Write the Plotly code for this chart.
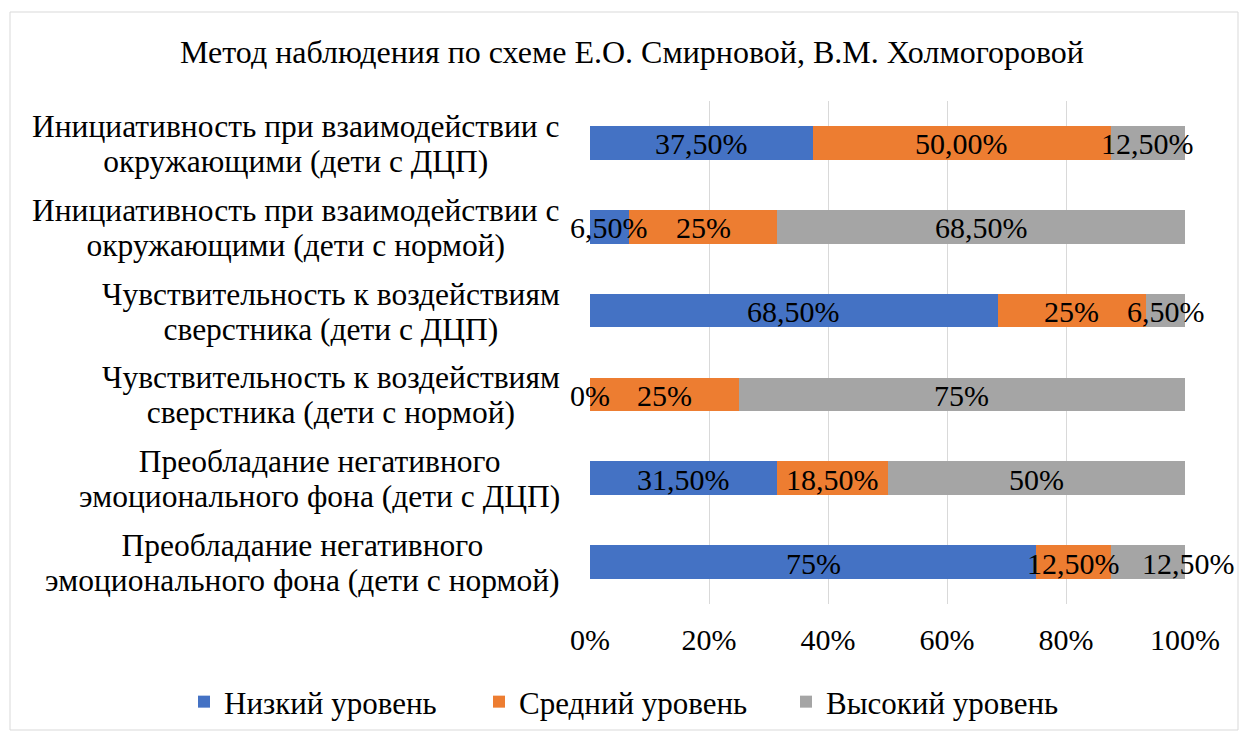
import plotly.graph_objects as go

title = "Метод наблюдения по схеме Е.О. Смирновой, В.М. Холмогоровой"
categories = [
    "Инициативность при взаимодействии с<br>окружающими (дети с ДЦП)",
    "Инициативность при взаимодействии с<br>окружающими (дети с нормой)",
    "Чувствительность к воздействиям<br>сверстника (дети с ДЦП)",
    "Чувствительность к воздействиям<br>сверстника (дети с нормой)",
    "Преобладание негативного<br>эмоционального фона (дети с ДЦП)",
    "Преобладание негативного<br>эмоционального фона (дети с нормой)",
]
series_names = ["Низкий уровень", "Средний уровень", "Высокий уровень"]
low = [0.375, 0.065, 0.685, 0.0, 0.315, 0.75]
mid = [0.50, 0.25, 0.25, 0.25, 0.185, 0.125]
high = [0.125, 0.685, 0.065, 0.75, 0.50, 0.125]
low_text = ["37,50%", "6,50%", "68,50%", "0%", "31,50%", "75%"]
mid_text = ["50,00%", "25%", "25%", "25%", "18,50%", "12,50%"]
high_text = ["12,50%", "68,50%", "6,50%", "75%", "50%", "12,50%"]
colors = ["#4472C4", "#ED7D31", "#A5A5A5"]
x_ticks = [0, 0.2, 0.4, 0.6, 0.8, 1.0]
x_tick_text = ["0%", "20%", "40%", "60%", "80%", "100%"]

FONT = "Liberation Serif, Times New Roman, serif"
FS_TITLE = 32
FS_CAT = 31.5
FS_CAT_LINE = 27   # controls the line spacing of category labels
FS_LABEL = 30
FS_TICK = 30
FS_LEG = 31

W, H = 1243, 735
L, R, T, B = 590, 58, 101, 131
PW = W - L - R
PH = H - T - B

# label nudges (pixels) the original applied to avoid collisions
label_nudge = {(5, 2): 41}

fig = go.Figure()
legend_ids = ["legend", "legend2", "legend3"]
series_vals = [low, mid, high]
series_text = [low_text, mid_text, high_text]
for name, vals, col, lid in zip(series_names, series_vals, colors, legend_ids):
    fig.add_trace(go.Bar(
        y=categories, x=vals, name=name, orientation="h",
        marker=dict(color=col, line=dict(width=0)),
        legend=lid, hoverinfo="x+y",
    ))

# data labels centred in each segment (positions derived from the data)
for i, c in enumerate(categories):
    start = 0.0
    for k, (vals, txt) in enumerate(zip(series_vals, series_text)):
        v = vals[i]
        fig.add_annotation(
            x=start + v / 2, xref="x", y=c, yref="y", text=txt[i],
            showarrow=False, xanchor="center", yanchor="middle", yshift=-1,
            xshift=label_nudge.get((i, k), 0),
            font=dict(family=FONT, size=FS_LABEL, color="black"),
        )
        start += v

# category labels: block right-aligned to the axis, lines centred in block
for c in categories:
    lines = c.split("<br>")
    txt = "<br>".join(
        "<span style='font-size:%spx'>%s</span>" % (FS_CAT, ln) for ln in lines)
    fig.add_annotation(
        x=0, xref="paper", y=c, yref="y", text=txt, showarrow=False,
        xanchor="right", yanchor="middle", align="center",
        xshift=-28, yshift=-1,
        font=dict(family=FONT, size=FS_CAT_LINE, color="black"),
    )

# outer chart border
fig.add_shape(type="rect", xref="paper", yref="paper",
              x0=(10 - L) / PW, x1=(1238 - L) / PW,
              y0=((H - B) - 730) / PH, y1=((H - B) - 12) / PH,
              line=dict(color="#D9D9D9", width=1), fillcolor="rgba(0,0,0,0)",
              layer="below")

leg_x = [184, 479, 786]
leg_common = dict(orientation="h", xref="container", yref="container",
                  y=1 - 702 / H, yanchor="middle", xanchor="left",
                  font=dict(family=FONT, size=FS_LEG, color="black"),
                  bgcolor="rgba(0,0,0,0)")
fig.update_layout(
    width=W, height=H,
    margin=dict(l=L, r=R, t=T, b=B),
    paper_bgcolor="white", plot_bgcolor="white",
    barmode="stack", bargap=0.6,
    font=dict(family=FONT, size=FS_LABEL, color="black"),
    title=dict(text=title, x=632 / W, xanchor="center",
               y=1 - 52 / H, yanchor="middle",
               font=dict(family=FONT, size=FS_TITLE, color="black")),
    xaxis=dict(range=[0, 1], tickvals=x_ticks, ticktext=x_tick_text,
               showgrid=True, gridcolor="#D9D9D9", gridwidth=1,
               zeroline=False, showline=False, ticks="",
               tickfont=dict(family=FONT, size=FS_TICK, color="black"),
               ticklabelstandoff=15),
    yaxis=dict(autorange="reversed", showticklabels=False, showgrid=False,
               zeroline=False, showline=False, ticks=""),
    legend=dict(x=leg_x[0] / W, **leg_common),
    legend2=dict(x=leg_x[1] / W, **leg_common),
    legend3=dict(x=leg_x[2] / W, **leg_common),
    showlegend=True,
)

fig.write_html("out.html", config={"displayModeBar": False},
               post_script="document.body.style.margin='0';")
